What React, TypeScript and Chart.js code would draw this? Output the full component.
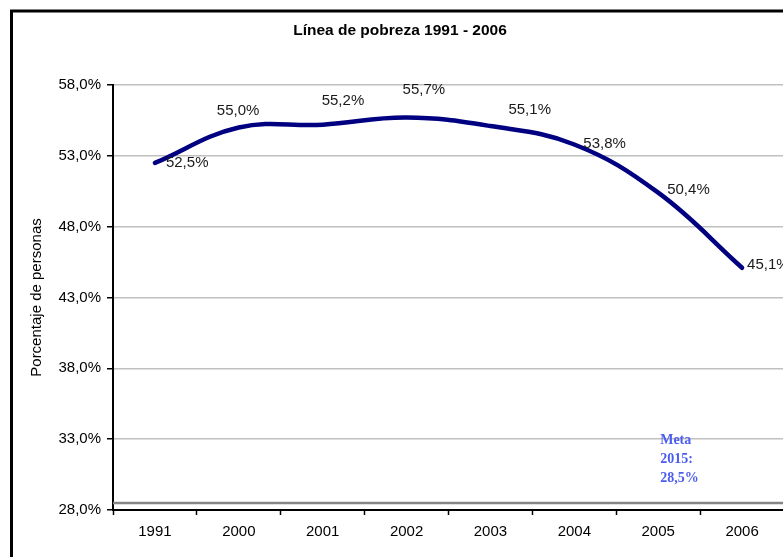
import React, { useEffect, useRef } from 'react';
import { Chart, registerables } from 'chart.js';

Chart.register(...registerables);

const categories = ['1991', '2000', '2001', '2002', '2003', '2004', '2005', '2006'];
const povertyRate = [52.5, 55.0, 55.2, 55.7, 55.1, 53.8, 50.4, 45.1];
const metaValue = 28.5;
const metaLines = ['Meta', '2015:', '28,5%'];
const yMin = 28;
const yMax = 58;
const yStep = 5;
const chartTitle = 'Línea de pobreza 1991 - 2006';
const yAxisTitle = 'Porcentaje de personas';

// label offsets (styling) in pixels relative to each point
const labelOffsets: [number, number][] = [
  [11, 0], [-22, -17], [-1, -24], [-4, -28], [18, -16], [9, -1], [9, -3], [5, -3],
];

const fmt = (v: number) => v.toFixed(1).replace('.', ',') + '%';
const SANS = "'Liberation Sans', Arial, sans-serif";
const SERIF = "'Liberation Serif', 'Times New Roman', serif";

const customPlugin = {
  id: 'customDecor',
  beforeDraw(chart: any) {
    const ctx = chart.ctx;
    ctx.save();
    ctx.fillStyle = '#fff';
    ctx.fillRect(0, 0, chart.width, chart.height);
    ctx.strokeStyle = '#000';
    ctx.lineWidth = 3;
    ctx.strokeRect(11.5, 11, 1000, 1000);
    // chart title
    ctx.font = `bold 15.5px ${SANS}`;
    ctx.fillStyle = '#000';
    ctx.textAlign = 'center';
    ctx.textBaseline = 'middle';
    ctx.fillText(chartTitle, 400, 31);
    ctx.restore();
  },
  beforeDatasetsDraw(chart: any) {
    const { ctx, chartArea, scales } = chart;
    const y = scales.y.getPixelForValue(metaValue);
    ctx.save();
    ctx.strokeStyle = '#858585';
    ctx.lineWidth = 2.5;
    ctx.beginPath();
    ctx.moveTo(chartArea.left, y);
    ctx.lineTo(chartArea.right, y);
    ctx.stroke();
    ctx.restore();
  },
  afterDatasetsDraw(chart: any) {
    const { ctx, scales } = chart;
    const meta = chart.getDatasetMeta(0);
    ctx.save();
    ctx.font = `15px ${SANS}`;
    ctx.fillStyle = '#1a1a1a';
    ctx.textAlign = 'left';
    ctx.textBaseline = 'middle';
    meta.data.forEach((pt: any, i: number) => {
      const [dx, dy] = labelOffsets[i] || [0, 0];
      ctx.fillText(fmt(povertyRate[i]), pt.x + dx, pt.y + dy);
    });
    // meta text
    ctx.font = `bold 14px ${SERIF}`;
    ctx.fillStyle = '#4b5cf0';
    const mx = scales.x.getPixelForValue(6) + 2;
    const my = scales.y.getPixelForValue(33) + 1;
    metaLines.forEach((t, i) => ctx.fillText(t, mx, my + i * 19));
    ctx.restore();
  },
};

export default function App() {
  const ref = useRef<HTMLCanvasElement | null>(null);

  useEffect(() => {
    if (!ref.current) return;
    const chart = new Chart(ref.current, {
      type: 'line',
      data: {
        labels: categories,
        datasets: [
          {
            data: povertyRate,
            borderColor: '#000080',
            borderWidth: 4.5,
            tension: 0.4,
            pointRadius: 0,
            fill: false,
            borderCapStyle: 'round',
            borderJoinStyle: 'round',
          },
        ],
      },
      options: {
        responsive: false,
        animation: false,
        devicePixelRatio: 1,
        layout: { padding: { left: 0, right: 16, top: 85, bottom: 0 } },
        plugins: {
          legend: { display: false },
          tooltip: { enabled: false },
          title: { display: false },
        },
        scales: {
          x: {
            type: 'category',
            offset: true,
            grid: {
              offset: true,
              drawOnChartArea: false,
              drawTicks: true,
              tickLength: 5,
              tickColor: '#000',
              tickWidth: 1.5,
            },
            border: { color: '#000', width: 2 },
            ticks: { color: '#000', font: { family: SANS, size: 15 }, padding: 8, maxRotation: 0 },
            afterFit: (s: any) => { s.height = 47; },
          },
          y: {
            min: yMin,
            max: yMax,
            ticks: {
              stepSize: yStep,
              color: '#000',
              font: { family: SANS, size: 15 },
              padding: 6,
              callback: (v: any) => fmt(Number(v)),
            },
            grid: {
              color: '#c0c0c0',
              lineWidth: 1.5,
              tickLength: 6,
              tickColor: '#000',
              tickWidth: 1.5,
            },
            border: { color: '#000', width: 2 },
            title: {
              display: true,
              text: yAxisTitle,
              color: '#000',
              font: { family: SANS, size: 15 },
              padding: { top: 28, bottom: 0 },
            },
            afterFit: (s: any) => { s.width = 113; },
          },
        },
      },
      plugins: [customPlugin],
    } as any);
    return () => chart.destroy();
  }, []);

  return (
    <div
      style={{
        position: 'fixed',
        left: 0,
        top: 0,
        width: 783,
        height: 557,
        overflow: 'hidden',
        background: '#fff',
      }}
    >
      <canvas ref={ref} width={800} height={557} style={{ display: 'block' }} />
    </div>
  );
}
